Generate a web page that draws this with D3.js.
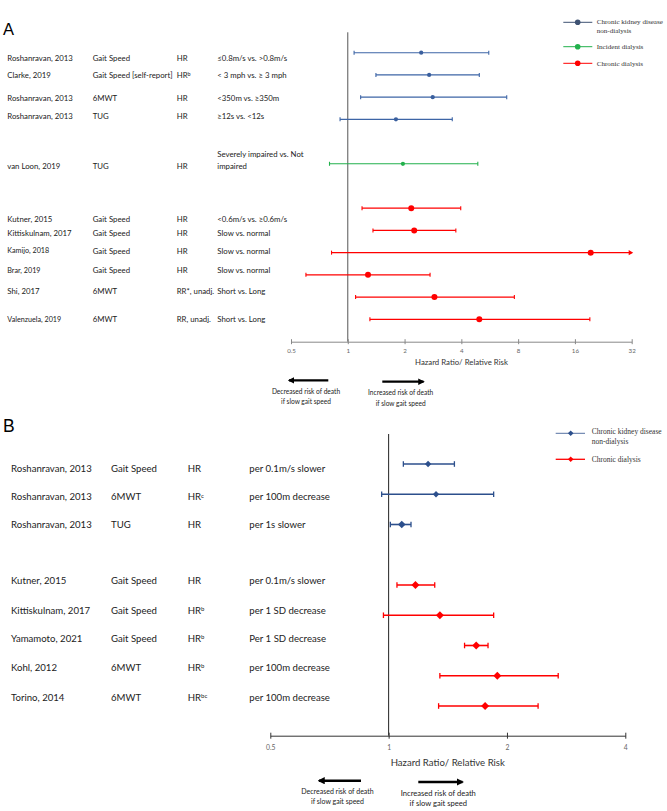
<!DOCTYPE html>
<html>
<head>
<meta charset="utf-8">
<script src="https://cdn.jsdelivr.net/npm/d3@7"></script>
<style>
  html, body { margin: 0; padding: 0; background: #fff; }
  svg { display: block; }
</style>
</head>
<body>
<svg id="chart" width="667" height="811"></svg>
<script>
// ---------------- DATA: panel A ----------------
const studiesA = ["Roshanravan, 2013", "Clarke, 2019", "Roshanravan, 2013", "Roshanravan, 2013",
  "van Loon, 2019", "Kutner, 2015", "Kittiskulnam, 2017", "Kamijo, 2018", "Brar, 2019", "Shi, 2017", "Valenzuela, 2019"];
const measuresA = ["Gait Speed", "Gait Speed [self-report]", "6MWT", "TUG", "TUG", "Gait Speed", "Gait Speed",
  "Gait Speed", "Gait Speed", "6MWT", "6MWT"];
const effectA = ["HR", "HR", "HR", "HR", "HR", "HR", "HR", "HR", "HR", "RR*, unadj.", "RR, unadj."];
const effectSupA = ["", "b", "", "", "", "", "", "", "", "", ""];
const comparisonsA = [["≤0.8m/s vs. >0.8m/s"], ["< 3 mph vs. ≥ 3 mph"], ["<350m vs. ≥350m"], ["≥12s vs. <12s"],
  ["Severely impaired vs. Not", "impaired"], ["<0.6m/s vs. ≥0.6m/s"], ["Slow vs. normal"], ["Slow vs. normal"],
  ["Slow vs. normal"], ["Short vs. Long"], ["Short vs. Long"]];
const groupA = ["ckd", "ckd", "ckd", "ckd", "incident", "chronic", "chronic", "chronic", "chronic", "chronic", "chronic"];
const rowA = [0, 1, 2, 3, 5, 7, 8, 9, 10, 11, 12];
const estA = [2.45, 2.70, 2.82, 1.80, 1.96, 2.17, 2.25, 19.4, 1.28, 2.88, 4.98];
const lowA = [1.08, 1.41, 1.17, 0.91, 0.80, 1.19, 1.36, 0.82, 0.60, 1.10, 1.31];
const highA = [5.59, 4.98, 6.96, 3.58, 4.89, 3.97, 3.74, 32, 2.73, 7.64, 19.2];
const openEndedA = [false, false, false, false, false, false, false, true, false, false, false];
const ticksA = [0.5, 1, 2, 4, 8, 16, 32];
const legendA = [["Chronic kidney disease", "non-dialysis"], ["Incident dialysis"], ["Chronic dialysis"]];
const legendGroupsA = ["ckd", "incident", "chronic"];

// ---------------- DATA: panel B ----------------
const studiesB = ["Roshanravan, 2013", "Roshanravan, 2013", "Roshanravan, 2013", "Kutner, 2015",
  "Kittiskulnam, 2017", "Yamamoto, 2021", "Kohl, 2012", "Torino, 2014"];
const measuresB = ["Gait Speed", "6MWT", "TUG", "Gait Speed", "Gait Speed", "Gait Speed", "6MWT", "6MWT"];
const effectB = ["HR", "HR", "HR", "HR", "HR", "HR", "HR", "HR"];
const effectSupB = ["", "c", "", "", "b", "b", "b", "bc"];
const comparisonsB = ["per 0.1m/s slower", "per 100m decrease", "per 1s slower", "per 0.1m/s slower",
  "per 1 SD decrease", "Per 1 SD decrease", "per 100m decrease", "per 100m decrease"];
const groupB = ["ckd", "ckd", "ckd", "chronic", "chronic", "chronic", "chronic", "chronic"];
const rowB = [0, 1, 2, 4, 5, 6, 7, 8];
const estB = [1.26, 1.32, 1.08, 1.17, 1.35, 1.67, 1.89, 1.76];
const lowB = [1.09, 0.96, 1.01, 1.05, 0.97, 1.56, 1.35, 1.34];
const highB = [1.47, 1.85, 1.14, 1.31, 1.85, 1.79, 2.70, 2.40];
const ticksB = [0.5, 1, 2, 4];
const legendB = [["Chronic kidney disease", "non-dialysis"], ["Chronic dialysis"]];
const legendGroupsB = ["ckd", "chronic"];

const axisTitle = "Hazard Ratio/ Relative Risk";
const leftNote = ["Decreased risk of death", "if slow gait speed"];
const rightNote = ["Increased risk of death", "if slow gait speed"];

// ---------------- STYLE ----------------
const colA = { ckd: "#3d65a6", incident: "#22b14c", chronic: "#ff0000" };
const legColA = { ckd: "#3e5272", incident: "#22b14c", chronic: "#ff0000" };
const colB = { ckd: "#2c4f8c", chronic: "#ff0000" };
const tableFont = "Lato, 'Open Sans', sans-serif";
const serifFont = "'Liberation Serif', 'DejaVu Serif', serif";

const svg = d3.select("#chart");

// arrowhead defs
const defs = svg.append("defs");
defs.append("marker").attr("id", "ah").attr("viewBox", "0 0 10 10").attr("refX", 8).attr("refY", 5)
  .attr("markerWidth", 3).attr("markerHeight", 3).attr("orient", "auto-start-reverse")
  .append("path").attr("d", "M0,0 L10,5 L0,10 Z").attr("fill", "#000");

// =============== PANEL A ===============
svg.append("text").attr("x", 3).attr("y", 35).attr("font-family", "'Liberation Sans', Arial, sans-serif")
  .attr("font-size", 16.5).text("A");

const xA = d3.scaleLog().base(2).domain([0.5, 32]).range([291, 631.7]);
const yA = d3.scaleLinear().domain([0, 12]).range([52.7, 319.3]);
const textNudgeA = [5.5, 0.5, 1.5, -3.5, 2, 11.5, 3.3, -1.7, -4.3, -6.3, 0];
const colXA = [7.3, 92.7, 176.7, 217.3];
const smallRowsA = [false, false, false, false, false, false, false, true, true, false, true];

const tA = svg.append("g").attr("font-family", tableFont).attr("fill", "#222");
rowA.forEach((r, i) => {
  const y = yA(r) + textNudgeA[i];
  const fs = smallRowsA[i] ? 7.2 : 7.8;
  tA.append("text").attr("x", colXA[0]).attr("y", y).attr("dy", "0.35em").attr("font-size", fs).text(studiesA[i]);
  tA.append("text").attr("x", colXA[1]).attr("y", y).attr("dy", "0.35em").attr("font-size", 7.8).text(measuresA[i]);
  const e = tA.append("text").attr("x", colXA[2]).attr("y", y).attr("dy", "0.35em").attr("font-size", 7.8).text(effectA[i]);
  if (effectSupA[i]) e.append("tspan").attr("dy", "-0.35em").attr("font-size", 5.5).text(effectSupA[i]);
  const lines = comparisonsA[i];
  lines.forEach((ln, k) => {
    const ly = lines.length > 1 ? y - 12 + k * 12 : y;
    tA.append("text").attr("x", colXA[3]).attr("y", ly).attr("dy", "0.35em").attr("font-size", 7.8).text(ln);
  });
});

// reference line
svg.append("line").attr("x1", xA(1)).attr("x2", xA(1)).attr("y1", 32.3).attr("y2", 341.7)
  .attr("stroke", "#555").attr("stroke-width", 1);

// axis
const axA = svg.append("g").attr("transform", "translate(0,341.7)")
  .call(d3.axisBottom(xA).tickValues(ticksA).tickFormat(d => d).tickSizeOuter(0));
axA.select(".domain").attr("stroke", "#888").attr("stroke-width", 1);
axA.selectAll(".tick line").attr("y1", -2.5).attr("y2", 2.5).attr("stroke", "#888");
axA.selectAll(".tick text").attr("y", 11).attr("dy", null).attr("font-size", 6.2)
  .attr("font-family", tableFont).attr("fill", "#666");
svg.append("text").attr("x", 461.5).attr("y", 362.5).attr("dy", "0.35em").attr("text-anchor", "middle")
  .attr("font-family", tableFont).attr("font-size", 7.8).attr("fill", "#333").text(axisTitle);

// CIs
const gA = svg.append("g");
rowA.forEach((r, i) => {
  const y = yA(r), c = colA[groupA[i]];
  const sw = groupA[i] === "chronic" ? 1.3 : 1.1;
  gA.append("line").attr("x1", xA(lowA[i])).attr("x2", xA(highA[i])).attr("y1", y).attr("y2", y)
    .attr("stroke", c).attr("stroke-width", sw);
  gA.append("line").attr("x1", xA(lowA[i])).attr("x2", xA(lowA[i])).attr("y1", y - 2).attr("y2", y + 2)
    .attr("stroke", c).attr("stroke-width", 1.1);
  if (openEndedA[i]) {
    const xe = xA(highA[i]);
    gA.append("path").attr("d", `M${xe + 1.5},${y} L${xe - 3},${y - 2.6} L${xe - 3},${y + 2.6} Z`).attr("fill", c);
  } else {
    gA.append("line").attr("x1", xA(highA[i])).attr("x2", xA(highA[i])).attr("y1", y - 2).attr("y2", y + 2)
      .attr("stroke", c).attr("stroke-width", 1.1);
  }
  gA.append("circle").attr("cx", xA(estA[i])).attr("cy", y).attr("r", groupA[i] === "chronic" ? 3 : 2.1)
    .attr("fill", groupA[i] === "ckd" ? "#3a5f9e" : c);
});

// legend A
const legYA = [22.3, 46.7, 63.3];
legendA.forEach((lab, i) => {
  const c = legColA[legendGroupsA[i]], y = legYA[i];
  svg.append("line").attr("x1", 563.3).attr("x2", 592.3).attr("y1", y).attr("y2", y).attr("stroke", c).attr("stroke-width", 1);
  svg.append("circle").attr("cx", 577.7).attr("cy", y).attr("r", 2.8).attr("fill", c);
  lab.forEach((t, k) => {
    svg.append("text").attr("x", 596.7).attr("y", (lab.length > 1 ? y - 1 : y) + k * 9.4).attr("dy", "0.35em")
      .attr("font-family", serifFont).attr("font-size", 7.1).attr("fill", "#333").text(t);
  });
});

// arrows A
svg.append("line").attr("x1", 328.3).attr("x2", 289).attr("y1", 380.3).attr("y2", 380.3)
  .attr("stroke", "#000").attr("stroke-width", 2.2).attr("marker-end", "url(#ah)");
svg.append("line").attr("x1", 382.3).attr("x2", 423.5).attr("y1", 381.7).attr("y2", 381.7)
  .attr("stroke", "#000").attr("stroke-width", 2.2).attr("marker-end", "url(#ah)");
leftNote.forEach((t, k) => svg.append("text").attr("x", 306).attr("y", 391.7 + k * 10).attr("dy", "0.35em")
  .attr("text-anchor", "middle").attr("font-family", tableFont).attr("font-size", 6.6).attr("fill", "#222").text(t));
rightNote.forEach((t, k) => svg.append("text").attr("x", 400.7).attr("y", 393 + k * 10.3).attr("dy", "0.35em")
  .attr("text-anchor", "middle").attr("font-family", tableFont).attr("font-size", 6.6).attr("fill", "#222").text(t));

// =============== PANEL B ===============
svg.append("text").attr("x", 3).attr("y", 432).attr("font-family", "'Liberation Sans', Arial, sans-serif")
  .attr("font-size", 17.5).text("B");

const xB = d3.scaleLog().base(2).domain([0.5, 4]).range([270.3, 625.3]);
const yB = d3.scaleLinear().domain([0, 8]).range([464, 706]);
const textNudgeB = [4.3, 2.7, 0.3, -4, -5, -7.3, -8, -8.7];
const colXB = [11, 111, 187.7, 249.3];

const tB = svg.append("g").attr("font-family", tableFont).attr("fill", "#222").attr("font-size", 9.6);
rowB.forEach((r, i) => {
  const y = yB(r) + textNudgeB[i];
  tB.append("text").attr("x", colXB[0]).attr("y", y).attr("dy", "0.35em").text(studiesB[i]);
  tB.append("text").attr("x", colXB[1]).attr("y", y).attr("dy", "0.35em").text(measuresB[i]);
  const e = tB.append("text").attr("x", colXB[2]).attr("y", y).attr("dy", "0.35em").text(effectB[i]);
  if (effectSupB[i]) e.append("tspan").attr("dy", "-0.45em").attr("font-size", 6).text(effectSupB[i]);
  tB.append("text").attr("x", colXB[3]).attr("y", y).attr("dy", "0.35em").text(comparisonsB[i]);
});

svg.append("line").attr("x1", xB(1)).attr("x2", xB(1)).attr("y1", 434).attr("y2", 735.7)
  .attr("stroke", "#222").attr("stroke-width", 1);

const axB = svg.append("g").attr("transform", "translate(0,735.7)")
  .call(d3.axisBottom(xB).tickValues(ticksB).tickFormat(d => d).tickSizeOuter(0));
axB.select(".domain").attr("stroke", "#333").attr("stroke-width", 1);
axB.selectAll(".tick line").attr("y1", -3).attr("y2", 3).attr("stroke", "#333");
axB.selectAll(".tick text").attr("y", 14).attr("dy", null).attr("font-size", 6.8)
  .attr("font-family", tableFont).attr("fill", "#666");
svg.append("text").attr("x", 447.8).attr("y", 762.7).attr("dy", "0.35em").attr("text-anchor", "middle")
  .attr("font-family", tableFont).attr("font-size", 9.6).attr("fill", "#333").text(axisTitle);

const diamond = (cx, cy, r) => `M${cx},${cy - r} L${cx + r},${cy} L${cx},${cy + r} L${cx - r},${cy} Z`;
const gB = svg.append("g");
rowB.forEach((r, i) => {
  const y = yB(r), c = colB[groupB[i]];
  gB.append("line").attr("x1", xB(lowB[i])).attr("x2", xB(highB[i])).attr("y1", y).attr("y2", y)
    .attr("stroke", c).attr("stroke-width", 1.6);
  [lowB[i], highB[i]].forEach(v => gB.append("line").attr("x1", xB(v)).attr("x2", xB(v))
    .attr("y1", y - 2.8).attr("y2", y + 2.8).attr("stroke", c).attr("stroke-width", 1.3));
  const rr = groupB[i] === "chronic" ? 4 : (i === 2 ? 3.8 : 3.2);
  gB.append("path").attr("d", diamond(xB(estB[i]), y, rr)).attr("fill", c);
});

const legYB = [433.3, 459.3];
legendB.forEach((lab, i) => {
  const c = colB[legendGroupsB[i]], y = legYB[i];
  svg.append("line").attr("x1", 555.7).attr("x2", 585).attr("y1", y).attr("y2", y).attr("stroke", c)
    .attr("stroke-width", legendGroupsB[i] === "ckd" ? 1 : 1.3).attr("stroke-opacity", legendGroupsB[i] === "ckd" ? 0.8 : 1);
  svg.append("path").attr("d", diamond(570.7, y, 2.8)).attr("fill", c);
  lab.forEach((t, k) => {
    svg.append("text").attr("x", 591.7).attr("y", (lab.length > 1 ? y - 1.6 : y) + k * 9.3).attr("dy", "0.35em")
      .attr("font-family", serifFont).attr("font-size", 7.5).attr("fill", "#333").text(t);
  });
});

svg.append("line").attr("x1", 361).attr("x2", 319).attr("y1", 780.7).attr("y2", 780.7)
  .attr("stroke", "#000").attr("stroke-width", 2.4).attr("marker-end", "url(#ah)");
svg.append("line").attr("x1", 418.3).attr("x2", 462.5).attr("y1", 782).attr("y2", 782)
  .attr("stroke", "#000").attr("stroke-width", 2.4).attr("marker-end", "url(#ah)");
leftNote.forEach((t, k) => svg.append("text").attr("x", 337.5).attr("y", 791.7 + k * 9.5).attr("dy", "0.35em")
  .attr("text-anchor", "middle").attr("font-family", tableFont).attr("font-size", 7).attr("fill", "#222").text(t));
rightNote.forEach((t, k) => svg.append("text").attr("x", 438.3).attr("y", 793.3 + k * 10.5).attr("dy", "0.35em")
  .attr("text-anchor", "middle").attr("font-family", tableFont).attr("font-size", 7.6).attr("fill", "#222").text(t));
</script>
</body>
</html>
